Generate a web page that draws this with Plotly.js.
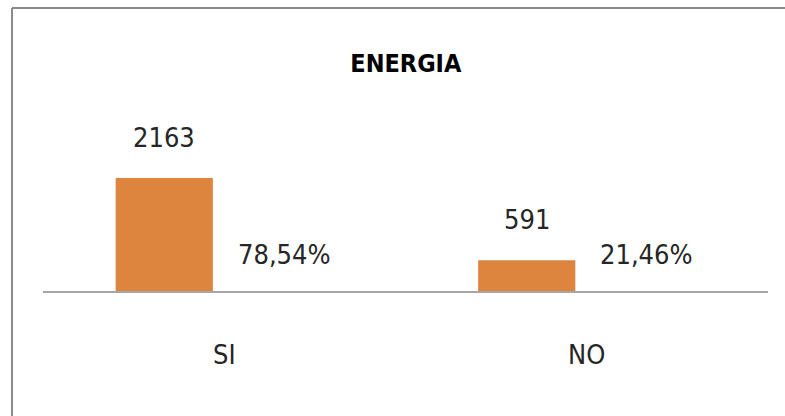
<!DOCTYPE html>
<html>
<head>
<meta charset="utf-8">
<script src="https://cdn.plot.ly/plotly-3.0.1.min.js"></script>
<style>
  html, body { margin: 0; padding: 0; background: #fff; overflow: hidden; }
  #chart { width: 785px; height: 416px; }
</style>
</head>
<body>
<div id="chart"></div>
<script>
const categories = ['SI', 'NO'];
const counts = [2163, 591];
const percents = [78.54, 21.46];
const percentLabels = ['78,54%', '21,46%'];

const FONT = '"Liberation Sans Narrow", "DejaVu Sans Condensed", "Arial Narrow", sans-serif';
const ORANGE = '#DD843F';

const W = 785, H = 416;
const M = { l: 43, r: 17, t: 100, b: 125 };
const PW = W - M.l - M.r, PH = H - M.t - M.b;
const px2x = px => (px - M.l) / PW;
const px2y = py => 1 - (py - M.t) / PH;

const traces = [
  {
    type: 'bar', x: categories, y: counts, name: 'Cantidad',
    marker: { color: ORANGE }, hoverinfo: 'x+y'
  },
  {
    type: 'bar', x: categories, y: percents.map(p => p / 100), name: 'Porcentaje',
    marker: { color: 'rgba(0,0,0,0)' }, hoverinfo: 'skip'
  }
];

const annotations = [];
categories.forEach((c, i) => {
  annotations.push({
    x: c, y: counts[i], xref: 'x', yref: 'y', xshift: -60, yshift: 41,
    yanchor: 'middle', text: String(counts[i]), showarrow: false,
    font: { family: FONT, size: 27, color: '#262626' }
  });
  annotations.push({
    x: c, y: percents[i] / 100, xref: 'x', yref: 'y', xshift: 60, yshift: 36,
    yanchor: 'middle', text: percentLabels[i], showarrow: false,
    font: { family: FONT, size: 27, color: '#262626' }
  });
});

const frameLine = { color: '#8a8a8a', width: 2 };
const shapes = [
  { type: 'line', xref: 'paper', yref: 'paper', x0: px2x(12), x1: px2x(12), y0: px2y(8), y1: px2y(430), line: frameLine },
  { type: 'line', xref: 'paper', yref: 'paper', x0: px2x(12), x1: px2x(800), y0: px2y(8), y1: px2y(8), line: frameLine }
];

const layout = {
  width: W, height: H,
  margin: M,
  paper_bgcolor: '#ffffff', plot_bgcolor: '#ffffff',
  showlegend: false,
  barmode: 'group', bargap: 0.338, bargroupgap: 0.19,
  title: {
    text: '<b>ENERGIA</b>', x: 0.517, xanchor: 'center', y: 0.847, yanchor: 'middle',
    font: { family: FONT, size: 25, color: '#000000' }
  },
  xaxis: {
    type: 'category', showline: true, linecolor: '#a6a6a6', linewidth: 2,
    showgrid: false, zeroline: false, ticks: '', ticklabelstandoff: 39,
    tickfont: { family: FONT, size: 27, color: '#262626' }
  },
  yaxis: {
    range: [0, 3660], visible: false, showgrid: false, zeroline: false, fixedrange: true
  },
  shapes: shapes,
  annotations: annotations
};

Plotly.newPlot('chart', traces, layout, { displayModeBar: false, staticPlot: true });
</script>
</body>
</html>
